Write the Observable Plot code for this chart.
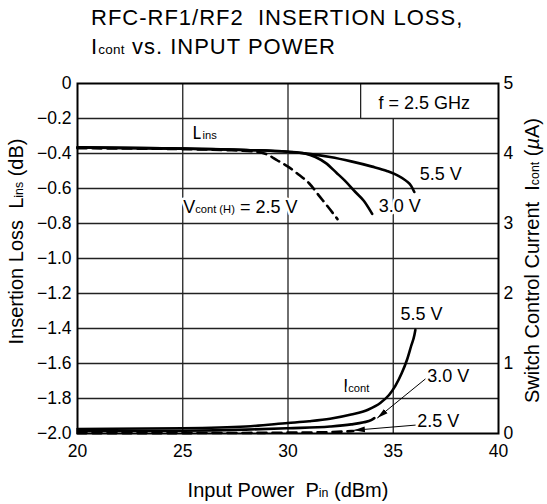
<!DOCTYPE html>
<html><head><meta charset="utf-8">
<script src="https://cdn.jsdelivr.net/npm/d3@7"></script>
<script src="https://cdn.jsdelivr.net/npm/@observablehq/plot@0.6"></script>
<style>
body{margin:0;background:#fff;font-family:Arial,"Liberation Sans",Helvetica,sans-serif;}
#wrap{width:547px;height:504px;position:relative;overflow:hidden;background:#fff}
#title{position:absolute;left:91px;top:0;font-size:22px;line-height:29px;letter-spacing:1px;color:#000;padding-top:3px;white-space:nowrap}
.sub{font-size:13.5px;letter-spacing:0.3px}
#chart{position:absolute;left:0;top:62px}
svg text{white-space:pre}
</style></head><body>
<div id="wrap"><div id="title">RFC-RF1/RF2&nbsp; INSERTION LOSS,<br>I<span class="sub">cont</span> vs. INPUT POWER</div><div id="chart"></div></div>
<script>
// ---- Insertion loss Lins (dB) vs Pin (dBm) ----
const linsPin55 = [20, 22, 25, 28, 30, 31, 32, 33, 34, 34.7, 35.2, 35.6, 35.85, 36.0];
const linsDb55  = [-0.365, -0.368, -0.372, -0.38, -0.39, -0.402, -0.42, -0.445, -0.475, -0.5, -0.525, -0.555, -0.585, -0.62];
const linsPin30 = [20, 25, 28, 30, 30.8, 31.3, 31.8, 32.3, 32.7, 33.2, 33.6, 34.0];
const linsDb30  = [-0.365, -0.372, -0.38, -0.39, -0.40, -0.42, -0.455, -0.51, -0.555, -0.62, -0.67, -0.745];
const linsPin25 = [20, 25, 27, 28.5, 29, 29.5, 30, 30.5, 31, 31.5, 32, 32.35];
const linsDb25  = [-0.37, -0.375, -0.38, -0.39, -0.405, -0.44, -0.475, -0.52, -0.57, -0.645, -0.72, -0.775];
// ---- Switch control current Icont (uA) vs Pin (dBm) ----
const icPin55 = [20, 25, 28, 30, 31, 32, 33, 33.8, 34.4, 34.8, 35.1, 35.4, 35.65, 35.85, 36.0, 36.05];
const icUa55  = [0.065, 0.075, 0.1, 0.15, 0.175, 0.21, 0.27, 0.34, 0.44, 0.55, 0.68, 0.86, 1.05, 1.25, 1.4, 1.48];
const icPin30 = [20, 25, 28, 30, 32, 33, 33.6, 33.95, 34.1];
const icUa30  = [0.035, 0.04, 0.055, 0.075, 0.1, 0.13, 0.16, 0.19, 0.22];
const icPin25 = [20, 25, 30, 32, 33.1];
const icUa25  = [0.006, 0.006, 0.012, 0.02, 0.035];

// ---- ticks ----
const pinTicks = [20, 25, 30, 35, 40];
const dbTicks = [0, -0.2, -0.4, -0.6, -0.8, -1.0, -1.2, -1.4, -1.6, -1.8, -2.0];
const uaTicks = [0, 1, 2, 3, 4, 5];
const gridPin = [25, 30, 35];
const gridDb = [-0.2, -0.4, -0.6, -0.8, -1.0, -1.2, -1.4, -1.6, -1.8];

// ---- annotations ----
const labelTexts = ["L_{ins}", "V_{cont (H)} = 2.5 V", "3.0 V", "5.5 V", "f = 2.5 GHz", "5.5 V", "I_{cont}", "3.0 V", "2.5 V"];
const labelPin   = [25.46, 25.02, 34.31, 36.26, 34.3, 35.34, 32.62, 36.61, 36.14];
const labelVal   = [-0.284, -0.706, -0.70, -0.516, -0.115, 1.70, 0.68, 0.82, 0.18];
const labelAxis  = ["db", "db", "db", "db", "db", "ua", "ua", "ua", "ua"];
const arrowPin1 = [36.53, 36.06], arrowUa1 = [0.78, 0.12];
const arrowPin2 = [34.24, 33.13], arrowUa2 = [0.22, 0.046];
const boxPin = [33.45, 40], boxDb = [-0.2, 0];

const titleX = "Input Power  P_{in} (dBm)";
const titleYL = "Insertion Loss  L_{ins} (dB)";
const titleYR = "Switch Control Current  I_{cont} (*{\u00b5}A)";

// secondary axis (0..5 uA) mapped linearly onto the primary (-2..0 dB) scale
const toLeft = ua => -2 + ua * 0.4;
const fromLeft = v => (v + 2) / 0.4;

const zip = (xs, ys, s) => xs.map((x, i) => ({x, y: ys[i], s}));
const solid = [
  ...zip(linsPin55, linsDb55, "L55"), ...zip(linsPin30, linsDb30, "L30"),
  ...zip(icPin55, icUa55.map(toLeft), "I55"), ...zip(icPin30, icUa30.map(toLeft), "I30")
];
const dashed = [
  ...zip(linsPin25, linsDb25, "L25"), ...zip(icPin25, icUa25.map(toLeft), "I25")
];
const labels = labelTexts.map((t, i) => ({t, x: labelPin[i], y: labelAxis[i] === "ua" ? toLeft(labelVal[i]) : labelVal[i]}));
const arrows = arrowPin1.map((x, i) => ({x1: x, y1: toLeft(arrowUa1[i]), x2: arrowPin2[i], y2: toLeft(arrowUa2[i])}));
const box = [{x1: boxPin[0], x2: boxPin[1], y1: boxDb[0], y2: boxDb[1]}];

const fmtDb = d => d === 0 ? "0" : d.toFixed(1).replace("-", "\u2212");
const FONT = 'Arial, "Liberation Sans", Helvetica, sans-serif';

const chart = Plot.plot({
  width: 547, height: 442,
  marginTop: 21, marginBottom: 71, marginLeft: 77, marginRight: 49,
  x: {domain: [20, 40]},
  y: {domain: [-2, 0]},
  style: {fontFamily: FONT, fontSize: "17.5px", color: "#000", background: "#fff"},
  marks: [
    Plot.ruleX(gridPin, {stroke: "#222", strokeWidth: 1.3}),
    Plot.rect(box, {x1: "x1", x2: "x2", y1: "y1", y2: "y2", fill: "white"}),
    Plot.ruleY(gridDb, {stroke: "#222", strokeWidth: 1.3}),
    Plot.ruleX([boxPin[0]], {y1: boxDb[0], y2: boxDb[1], stroke: "#222", strokeWidth: 1.3}),
    Plot.text(labels, {x: "x", y: "y", text: "t", textAnchor: "start", lineAnchor: "middle", fontSize: 18, fill: "#000", stroke: "white", strokeWidth: 5}),
    Plot.line(solid, {x: "x", y: "y", z: "s", stroke: "#000", strokeWidth: 2.6, curve: "monotone-x"}),
    Plot.line(dashed, {x: "x", y: "y", z: "s", stroke: "#000", strokeWidth: 2.6, strokeDasharray: "9,6", curve: "monotone-x"}),
    Plot.link(arrows, {x1: "x1", y1: "y1", x2: "x2", y2: "y2", stroke: "#000", strokeWidth: 1, markerEnd: "arrow"}),
    Plot.frame({stroke: "#000", strokeWidth: 2}),
    Plot.axisX(pinTicks, {anchor: "bottom", tickSize: 0, tickPadding: 11, label: null}),
    Plot.axisY(dbTicks, {anchor: "left", tickSize: 0, tickPadding: 6, tickFormat: fmtDb, label: null}),
    Plot.axisY(uaTicks.map(toLeft), {anchor: "right", tickSize: 0, tickPadding: 5, tickFormat: v => String(Math.round(fromLeft(v))), label: null}),
    Plot.text([titleX], {text: d => d, frameAnchor: "bottom", textAnchor: "middle", lineAnchor: "bottom", dy: 63, fontSize: 20}),
    Plot.text([titleYL], {text: d => d, frameAnchor: "left", textAnchor: "middle", rotate: -90, lineAnchor: "middle", dx: -61, dy: -17, fontSize: 20}),
    Plot.text([titleYR], {text: d => d, frameAnchor: "right", textAnchor: "middle", rotate: -90, lineAnchor: "middle", dx: 34, dy: 2, fontSize: 20})
  ]
});

// turn _{...} into small subscript-size tspans and *{...} into italic tspans
d3.select(chart).selectAll("text").each(function() {
  const s = this.textContent;
  if (!/[_*]\{/.test(s)) return;
  const sel = d3.select(this);
  sel.text(null);
  const re = /([_*])\{([^}]*)\}/g;
  let last = 0, m;
  while ((m = re.exec(s))) {
    if (m.index > last) sel.append("tspan").text(s.slice(last, m.index));
    const t = sel.append("tspan").text(m[2]);
    if (m[1] === "_") t.attr("font-size", "0.62em"); else t.attr("font-style", "italic");
    last = re.lastIndex;
  }
  if (last < s.length) sel.append("tspan").text(s.slice(last));
});
// filled triangular arrow heads
d3.select(chart).selectAll("marker")
  .attr("viewBox", "-11 -5 12 10").attr("markerWidth", 12).attr("markerHeight", 10)
  .attr("markerUnits", "userSpaceOnUse")
  .selectAll("path").attr("d", "M-11,-2.8L0,0L-11,2.8Z").attr("fill", "#000").attr("stroke", "none");

document.getElementById("chart").appendChild(chart);
</script></body></html>
